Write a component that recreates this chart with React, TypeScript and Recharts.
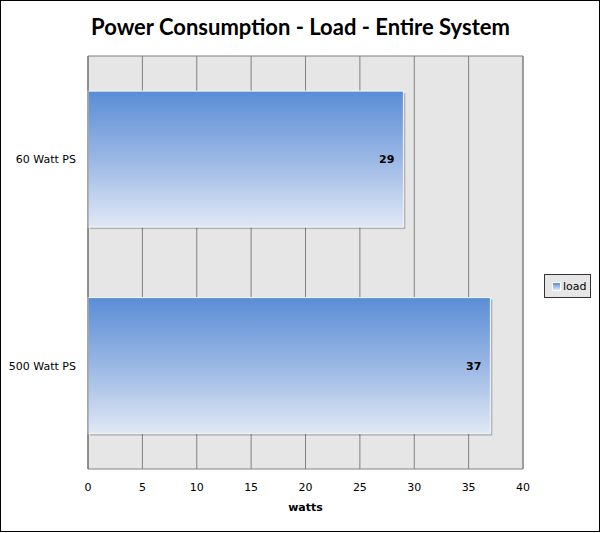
import React from 'react';
import { BarChart, Bar, XAxis, YAxis, CartesianGrid, LabelList, Legend, ReferenceArea } from 'recharts';

const categories = ['60 Watt PS', '500 Watt PS'];
const loadValues = [29, 37];
const xTicks = [0, 5, 10, 15, 20, 25, 30, 35, 40];
const seriesName = 'load';
const chartTitle = 'Power Consumption - Load - Entire System';
const xAxisTitle = 'watts';

const data = categories.map((name, i) => ({ name, load: loadValues[i] }));

const FONT = '"DejaVu Sans", Verdana, sans-serif';

const ShadowBar = (props: any) => {
  const { x, y, width, height } = props;
  if (width == null || height == null) return null;
  return (
    <g>
      <rect x={x + 2} y={y + 2} width={width} height={height} fill="rgba(0,0,0,0.22)" />
      <rect x={x} y={y} width={width} height={height} fill="url(#barGrad)" stroke="#f4f7fc" strokeWidth={1} />
    </g>
  );
};

const renderLegend = () => (
  <div
    style={{
      border: '1px solid #333',
      background: '#e6e6e6',
      width: 47,
      height: 24,
      boxSizing: 'border-box',
      display: 'flex',
      alignItems: 'center',
      paddingLeft: 7,
      fontFamily: FONT,
      fontSize: 11,
      color: '#000',
    }}
  >
    <span
      style={{
        display: 'inline-block',
        width: 7,
        height: 7,
        border: '1px solid #fff',
        background: 'linear-gradient(#5b8ed6, #dfe8f5)',
        marginRight: 2,
      }}
    />
    {seriesName}
  </div>
);

export default function App() {
  return (
    <div style={{ position: 'absolute', left: 0, top: 0, width: 601, height: 533, background: '#fff' }}>
      <div
        style={{
          position: 'absolute',
          left: 0,
          top: 0,
          width: 600,
          height: 532,
          border: '1px solid #000',
          boxSizing: 'border-box',
        }}
      />
      <div
        style={{
          position: 'absolute',
          left: 0,
          top: 14,
          width: 601,
          textAlign: 'center',
          fontFamily: 'Lato, "Open Sans", sans-serif',
          fontWeight: 700,
          fontSize: 22,
          lineHeight: '26px',
          color: '#000',
        }}
      >
        {chartTitle}
      </div>
      <BarChart
        width={601}
        height={533}
        data={data}
        layout="vertical"
        margin={{ top: 56, right: 78, bottom: 34, left: 0 }}
        barCategoryGap="17%"
        style={{ position: 'absolute', left: 0, top: 0 }}
      >
        <defs>
          <linearGradient id="barGrad" x1="0" y1="0" x2="0" y2="1">
            <stop offset="0%" stopColor="#5a8dd6" />
            <stop offset="50%" stopColor="#9ab7e4" />
            <stop offset="100%" stopColor="#e0e8f5" />
          </linearGradient>
        </defs>
        <CartesianGrid fill="#e6e6e6" stroke="#808080" horizontal={false} />
        <ReferenceArea x1={0} x2={40} fill="none" stroke="#808080" strokeWidth={1} ifOverflow="visible" />
        <XAxis
          type="number"
          domain={[0, 40]}
          ticks={xTicks}
          height={30}
          tickSize={0}
          tickMargin={14}
          axisLine={false}
          tickLine={false}
          tick={{ fontFamily: FONT, fontSize: 11, fill: '#000' }}
          label={{ value: xAxisTitle, position: 'bottom', offset: 4, style: { fontFamily: FONT, fontSize: 11, fontWeight: 700, fill: '#000' } }}
        />
        <YAxis
          type="category"
          dataKey="name"
          width={88}
          tickSize={0}
          tickMargin={12}
          axisLine={{ stroke: '#808080' }}
          tickLine={false}
          tick={{ fontFamily: FONT, fontSize: 11, fill: '#000' }}
        />
        <Legend
          layout="horizontal"
          verticalAlign="middle"
          align="center"
          content={renderLegend}
          wrapperStyle={{ left: 544, top: 274, width: 47, height: 24 }}
        />
        <Bar dataKey="load" name={seriesName} isAnimationActive={false} shape={ShadowBar}>
          <LabelList
            dataKey="load"
            position="insideRight"
            offset={9}
            style={{ fontFamily: FONT, fontSize: 11, fontWeight: 700, fill: '#000' }}
          />
        </Bar>
      </BarChart>
    </div>
  );
}
